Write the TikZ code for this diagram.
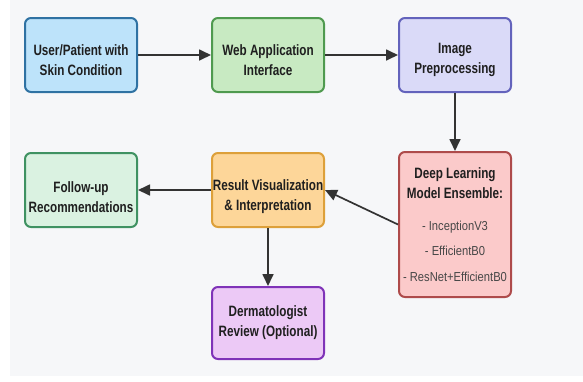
\documentclass[tikz,border=0pt]{standalone}
\usepackage{fontspec}
\setmainfont{Liberation Sans}[FakeStretch=0.86]
\newfontfamily\headfont{Liberation Sans}[FakeStretch=0.78]
\usetikzlibrary{arrows.meta}
\definecolor{bgc}{HTML}{F6F7F9}
\definecolor{arr}{HTML}{333333}
\definecolor{f1}{HTML}{BDE3FA}\definecolor{d1}{HTML}{2F72A3}
\definecolor{f2}{HTML}{C8EAC2}\definecolor{d2}{HTML}{4F9A4F}
\definecolor{f3}{HTML}{DADAF8}\definecolor{d3}{HTML}{6363BC}
\definecolor{f4}{HTML}{FBCACA}\definecolor{d4}{HTML}{AE4B4B}
\definecolor{f5}{HTML}{FDD699}\definecolor{d5}{HTML}{DDA03A}
\definecolor{f6}{HTML}{DAF2E1}\definecolor{d6}{HTML}{3F9262}
\definecolor{f7}{HTML}{ECC9F6}\definecolor{d7}{HTML}{7F33B8}
\tikzset{
  box/.style={draw, line width=2pt, rounded corners=6pt, minimum width=112pt, minimum height=74pt, inner sep=0pt},
  lbl/.style={align=center, font=\headfont\fontsize{15}{20}\selectfont\bfseries, text=black!88, inner sep=0pt},
  item/.style={font=\fontsize{13}{14}\selectfont, text=black!72, inner sep=0pt},
  conn/.style={draw=arr, line width=1.7pt, -{Triangle[length=12pt,width=11pt]}}
}
\begin{document}
\begin{tikzpicture}[x=1pt,y=-1pt]
\fill[white] (0,0) rectangle (583,381);
\fill[bgc] (10,0) rectangle (583,376);
\useasboundingbox (0,0) rectangle (583,381);
\node[box, fill=f1, draw=d1] (b1) at (81,55) {};
\node[box, fill=f2, draw=d2] (b2) at (268,55) {};
\node[box, fill=f3, draw=d3] (b3) at (455,55) {};
\node[box, fill=f4, draw=d4, minimum height=145pt] (b4) at (455,224.5) {};
\node[box, fill=f5, draw=d5] (b5) at (268,190) {};
\node[box, fill=f6, draw=d6] (b6) at (81,190) {};
\node[box, fill=f7, draw=d7, minimum height=72pt] (b7) at (268,323) {};
\node[lbl] (t1) at (81,60) {User/Patient with\\Skin Condition};
\node[lbl] (t2) at (268,60) {Web Application\\Interface};
\node[lbl] (t3) at (455,60) {Image\\Preprocessing};
\node[lbl] (t4) at (455,183) {Deep Learning\\Model Ensemble:};
\node[item] (i1) at (455,227) {- InceptionV3};
\node[item] (i2) at (455,251) {- EfficientB0};
\node[item] (i3) at (455,277) {- ResNet+EfficientB0};
\node[lbl] (t5) at (268,197) {Result Visualization\\\& Interpretation};
\node[lbl] (t6) at (81,197) {Follow-up\\Recommendations};
\node[lbl] (t7) at (268,323) {Dermatologist\\Review (Optional)};
\draw[conn] (b1.east) -- (b2.west);
\draw[conn] (b2.east) -- (b3.west);
\draw[conn] (b3.south) -- (b4.north);
\draw[conn] (b4.west) -- (b5.east);
\draw[conn] (b5.west) -- (b6.east);
\draw[conn] (b5.south) -- (b7.north);
\end{tikzpicture}
\end{document}
